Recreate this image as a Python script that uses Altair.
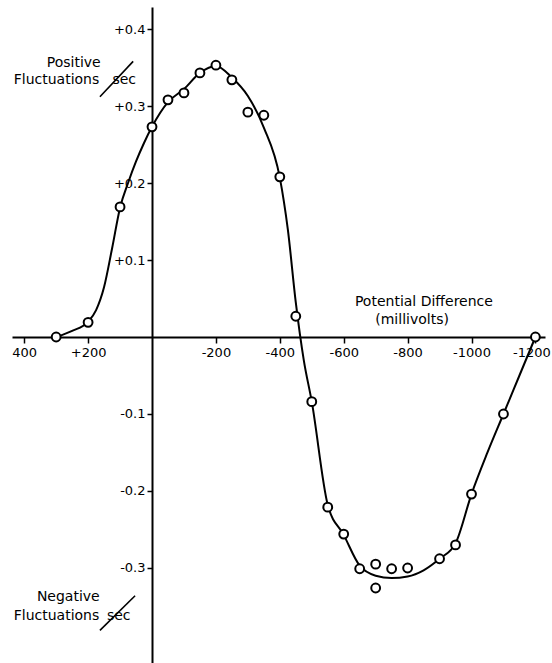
import altair as alt
import pandas as pd

# ---- data ----
point_mv = [300, 200, 100, 0, -50, -100, -150, -200, -250, -300, -350, -400, -450,
            -500, -550, -600, -650, -700, -700, -750, -800, -900, -950, -1000, -1100, -1200]
point_fl = [0.0, 0.019, 0.169, 0.273, 0.308, 0.317, 0.343, 0.353, 0.334, 0.292, 0.288, 0.208, 0.027,
            -0.084, -0.221, -0.256, -0.301, -0.295, -0.326, -0.301, -0.300, -0.288, -0.270, -0.204, -0.100, 0.0]

curve_mv = [300, 250, 200, 175, 150, 125, 100, 75, 50, 25, 0, -50, -100, -150, -200, -250, -300,
            -350, -400, -425, -450, -475, -500, -550, -600, -650, -700, -750, -800, -850, -900,
            -950, -1000, -1050, -1100, -1150, -1200]
curve_fl = [0.0, 0.008, 0.02, 0.035, 0.065, 0.115, 0.168, 0.2, 0.228, 0.252, 0.273, 0.305, 0.322,
            0.343, 0.352, 0.337, 0.313, 0.272, 0.207, 0.14, 0.045, -0.03, -0.084, -0.218, -0.257,
            -0.297, -0.31, -0.313, -0.311, -0.303, -0.288, -0.268, -0.204, -0.15, -0.1, -0.05, 0.0]

x_ticks = [400, 200, -200, -400, -600, -800, -1000, -1200]
x_tick_labels = ["400", "+200", "-200", "-400", "-600", "-800", "-1000", "-1200"]
y_ticks = [0.4, 0.3, 0.2, 0.1, -0.1, -0.2, -0.3]
y_tick_labels = ["+0.4", "+0.3", "+0.2", "+0.1", "-0.1", "-0.2", "-0.3"]

# annotation texts (positions in data units)
ann_center = pd.DataFrame({
    "v": [-851, -814, 245, 262],
    "f": [0.045, 0.022, 0.356, -0.338],
    "t": ["Potential Difference", "(millivolts)", "Positive", "Negative"],
})
ann_right = pd.DataFrame({"v": [165, 165], "f": [0.334, -0.362], "t": ["Fluctuations", "Fluctuations"]})
ann_left = pd.DataFrame({"v": [124, 141], "f": [0.334, -0.362], "t": ["sec", "sec"]})
slashes = pd.DataFrame({"v": [163, 163], "f": [0.312, -0.381], "v2": [59, 53], "f2": [0.358, -0.336]})

# ---- geometry ----
X_LEFT, X_RIGHT = 438.2, -1230.0
Y_TOP, Y_BOT = 0.4286, -0.4234
W, H = 533, 656
x_axis_offset = -(H - H * (Y_TOP - 0) / (Y_TOP - Y_BOT))
y_axis_offset = -(W * (X_LEFT - 0) / (X_LEFT - X_RIGHT))

FONT = "DejaVu Sans"

def label_expr(vals, labs):
    parts = " : ".join(f"datum.value == {v} ? '{l}'" for v, l in zip(vals, labs))
    return parts + " : ''"

xs = alt.Scale(domain=[X_RIGHT, X_LEFT], reverse=True, nice=False, zero=False)
ys = alt.Scale(domain=[Y_BOT, Y_TOP], nice=False, zero=False)

x_axis = alt.Axis(values=x_ticks, labelExpr=label_expr(x_ticks, x_tick_labels), offset=x_axis_offset,
                  title=None, grid=False, domainColor="black", domainWidth=2, tickColor="black",
                  tickWidth=1.5, tickSize=6, labelFont=FONT, labelFontSize=13, labelColor="black",
                  labelPadding=3, labelFlush=False, labelOverlap=False,
                  labelOffset=alt.condition("datum.value == -1200", alt.value(-4), alt.value(0)))
y_axis = alt.Axis(values=y_ticks, labelExpr=label_expr(y_ticks, y_tick_labels), offset=y_axis_offset,
                  title=None, grid=False, domainColor="black", domainWidth=2, tickColor="black",
                  tickWidth=1.5, tickSize=5, labelFont=FONT, labelFontSize=13, labelColor="black",
                  labelPadding=2, labelFlush=False, labelOverlap=False)

curve_df = pd.DataFrame({"v": curve_mv, "f": curve_fl})
pts_df = pd.DataFrame({"v": point_mv, "f": point_fl})

line = alt.Chart(curve_df).mark_line(color="black", strokeWidth=2, interpolate="monotone").encode(
    x=alt.X("v:Q", scale=xs, axis=x_axis),
    y=alt.Y("f:Q", scale=ys, axis=y_axis),
    order=alt.Order("v:Q", sort="descending"),
)

points = alt.Chart(pts_df).mark_point(shape="circle", size=78, filled=False, fill="white",
                                      fillOpacity=1, stroke="black", strokeWidth=2, opacity=1).encode(
    x=alt.X("v:Q", scale=xs), y=alt.Y("f:Q", scale=ys))

def texts(df, align):
    return alt.Chart(df).mark_text(font=FONT, fontSize=14, color="black", align=align,
                                   baseline="middle").encode(
        x=alt.X("v:Q", scale=xs), y=alt.Y("f:Q", scale=ys), text="t:N")

slash = alt.Chart(slashes).mark_rule(color="black", strokeWidth=1.6).encode(
    x=alt.X("v:Q", scale=xs), y=alt.Y("f:Q", scale=ys), x2="v2:Q", y2="f2:Q")

chart = alt.layer(line, points, texts(ann_center, "center"), texts(ann_right, "right"),
                  texts(ann_left, "left"), slash).properties(
    width=W, height=H,
    autosize=alt.AutoSizeParams(type="none"),
    padding={"left": 12, "top": 7, "right": 7, "bottom": 0},
    background="white",
).configure_view(stroke=None)

chart.save("out.html", embed_options={"renderer": "svg", "actions": False})
